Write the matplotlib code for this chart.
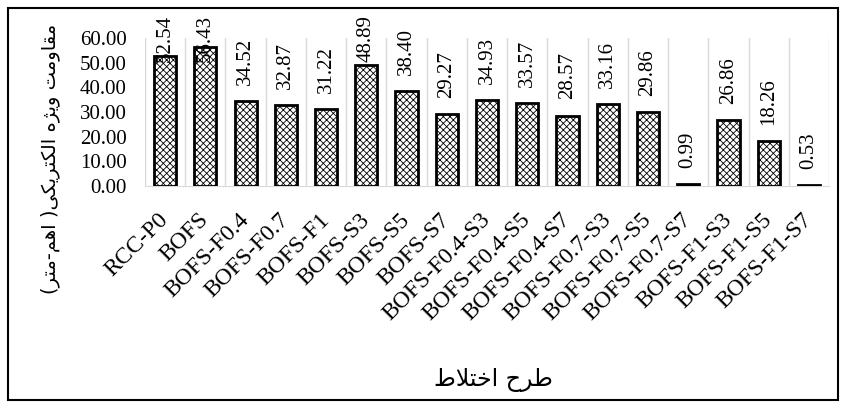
import matplotlib
matplotlib.use('Agg')
import matplotlib.pyplot as plt
from matplotlib.patches import Rectangle

# mix designs and measured electrical resistivity (ohm-m)
mixes = ['RCC-P0', 'BOFS', 'BOFS-F0.4', 'BOFS-F0.7', 'BOFS-F1', 'BOFS-S3',
         'BOFS-S5', 'BOFS-S7', 'BOFS-F0.4-S3', 'BOFS-F0.4-S5', 'BOFS-F0.4-S7',
         'BOFS-F0.7-S3', 'BOFS-F0.7-S5', 'BOFS-F0.7-S7', 'BOFS-F1-S3',
         'BOFS-F1-S5', 'BOFS-F1-S7']
resistivity = [52.54, 56.43, 34.52, 32.87, 31.22, 48.89, 38.40, 29.27, 34.93,
               33.57, 28.57, 33.16, 29.86, 0.99, 26.86, 18.26, 0.53]
yticks = [0, 10, 20, 30, 40, 50, 60]

ylabel = 'مقاومت ویژه الکتریکی( اهم-متر)'
xlabel = 'طرح اختلاط'

# matplotlib has no complex text layout, so join the Persian letters by hand:
# letter -> (isolated, final, initial, medial); two entries = joins on the right only
FORMS = {
    'ا': ('\uFE8D', '\uFE8E'), 'ر': ('\uFEAD', '\uFEAE'),
    'ژ': ('\uFB8A', '\uFB8B'), 'و': ('\uFEED', '\uFEEE'),
    'ت': ('\uFE95', '\uFE96', '\uFE97', '\uFE98'),
    'ح': ('\uFEA1', '\uFEA2', '\uFEA3', '\uFEA4'),
    'خ': ('\uFEA5', '\uFEA6', '\uFEA7', '\uFEA8'),
    'ط': ('\uFEC1', '\uFEC2', '\uFEC3', '\uFEC4'),
    'ق': ('\uFED5', '\uFED6', '\uFED7', '\uFED8'),
    'ک': ('\uFB8E', '\uFB8F', '\uFB90', '\uFB91'),
    'ل': ('\uFEDD', '\uFEDE', '\uFEDF', '\uFEE0'),
    'م': ('\uFEE1', '\uFEE2', '\uFEE3', '\uFEE4'),
    'ه': ('\uFEE9', '\uFEEA', '\uFEEB', '\uFEEC'),
    'ی': ('\uFBFC', '\uFBFD', '\uFBFE', '\uFBFF'),
}
MIRROR = {'(': ')', ')': '('}


def shape_rtl(s):
    # lam + alef ligature
    s = s.replace('لا', '\uE000')
    forms = dict(FORMS)
    forms['\uE000'] = ('\uFEFB', '\uFEFC')
    out = []
    for i, c in enumerate(s):
        if c not in forms:
            out.append(MIRROR.get(c, c))
            continue
        prev = s[i - 1] if i > 0 else ''
        nxt = s[i + 1] if i + 1 < len(s) else ''
        joins_prev = prev in forms and len(forms[prev]) == 4
        joins_next = len(forms[c]) == 4 and nxt in forms
        f = forms[c]
        if joins_prev and joins_next:
            out.append(f[3])
        elif joins_prev:
            out.append(f[1])
        elif joins_next:
            out.append(f[2])
        else:
            out.append(f[0])
    return ''.join(reversed(out))


plt.rcParams['hatch.color'] = '#a0a0a0'
plt.rcParams['hatch.linewidth'] = 0.6

fig = plt.figure(figsize=(8.46, 4.08), dpi=100)
ax = fig.add_axes([0.1714, 0.544, 0.8086, 0.363])

x = list(range(len(mixes)))
ax.bar(x, resistivity, width=0.55, color='white', edgecolor='black',
       linewidth=2.0, hatch='xxxxx', zorder=3)

# value labels, pushed down when they would run off the top
for i, v in enumerate(resistivity):
    ax.text(i, min(v + 6.5, 50.3), f'{v:.2f}', rotation=90, ha='center',
            va='bottom', fontsize=15, family='Liberation Serif', clip_on=False)

ax.set_xlim(-0.5, len(mixes) - 0.5)
ax.set_ylim(0, 60)
ax.set_yticks(yticks)
ax.set_yticklabels([f'{t:.2f}' for t in yticks], family='Liberation Serif',
                   fontsize=15)
ax.set_xticks(x)
ax.set_xticklabels(mixes, rotation=45, ha='right', va='center',
                   rotation_mode='anchor', family='Liberation Serif', fontsize=17)
ax.tick_params(axis='both', length=0)
ax.tick_params(axis='y', pad=13)
ax.tick_params(axis='x', pad=22)

# category separators
for b in range(len(mixes) + 1):
    ax.axvline(b - 0.5, color='#d9d9d9', linewidth=1, zorder=1)
for s in ['top', 'right', 'left']:
    ax.spines[s].set_visible(False)
ax.spines['bottom'].set_color('#d9d9d9')

fig.text(0.059, 0.61, shape_rtl(ylabel), rotation=90, ha='center', va='center',
         fontsize=14, family='DejaVu Sans')
fig.text(0.583, 0.068, shape_rtl(xlabel), ha='center', va='center', fontsize=17,
         family='DejaVu Sans')

fig.patches.append(Rectangle((0.009, 0.02), 0.982, 0.96, transform=fig.transFigure,
                             fill=False, edgecolor='black', linewidth=1.5))

fig.savefig('out.png', dpi=100)
